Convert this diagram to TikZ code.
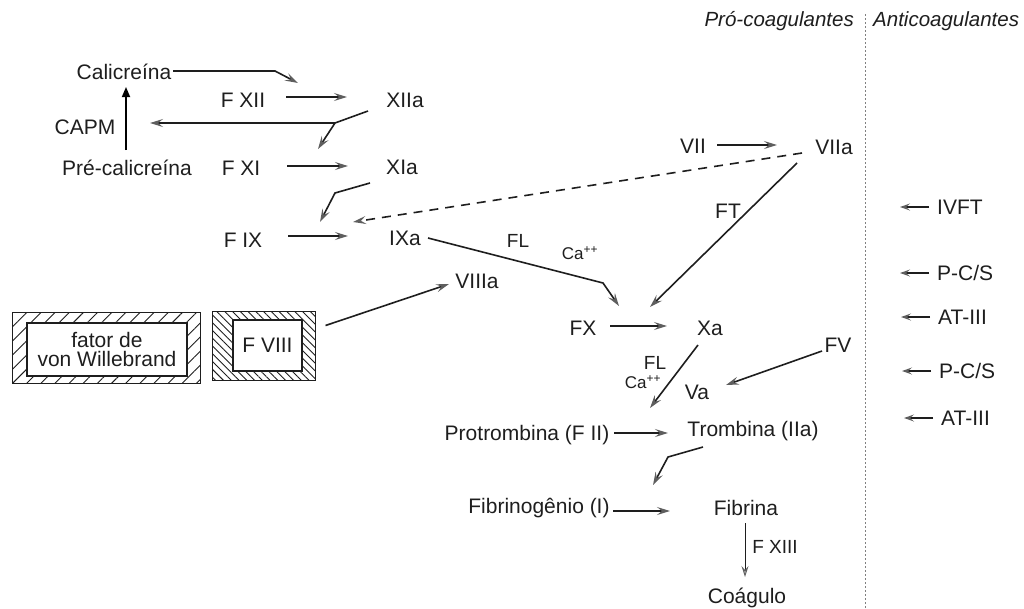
\documentclass[tikz,border=0pt]{standalone}
\usepackage{fontspec}
\setmainfont{Liberation Sans}
\usetikzlibrary{arrows.meta,patterns.meta,calc}
\definecolor{ink}{HTML}{1E1E1E}
\definecolor{tipgray}{HTML}{5E5E5E}
\begin{document}
\begin{tikzpicture}[x=1pt,y=-1pt,
  txt/.style={inner sep=0pt, text=ink, font=\fontsize{21}{23}\selectfont},
  lbl/.style={inner sep=0pt, text=ink, font=\fontsize{19}{21}\selectfont},
  small/.style={inner sep=0pt, text=ink, font=\fontsize{17}{19}\selectfont},
  hdr/.style={inner sep=0pt, text=ink, font=\fontsize{20.5}{22}\selectfont\itshape},
  line/.style={draw=ink, line width=1.6pt},
  arr/.style={line, -{Stealth[length=13pt,width=8pt,inset=5pt,color=tipgray,fill=tipgray!55]}},
  thinarr/.style={draw=ink, line width=0.9pt, -{Stealth[length=11pt,width=7pt,inset=4pt,color=tipgray,fill=tipgray!45]}},
  inh/.style={draw=ink, line width=1.3pt, -{Stealth[length=10pt,width=7pt,inset=4pt,color=tipgray,fill=tipgray!40]}},
  solidarr/.style={draw=black, line width=1.7pt, -{Triangle[length=10pt,width=8pt]}},
  dashedarr/.style={arr, dash pattern=on 9pt off 7pt},
  sep/.style={draw=gray, line width=0.8pt, dash pattern=on 2pt off 2pt},
  inner/.style={draw=ink, line width=1.3pt, inner sep=0pt, text=ink, align=center},
  band/.style={line width=1.3pt, draw=ink, even odd rule}
]
\useasboundingbox (0,0) rectangle (1024,608);

% column headers and divider
\node[hdr, anchor=east] (pro) at (854,21) {Pró-coagulantes};
\node[hdr, anchor=west] (anti) at (873,21) {Anticoagulantes};
\coordinate (septop) at (865,14);
\coordinate (sepbot) at (865,608);
\draw[sep] (septop) -- (sepbot);

% contact pathway
\node[txt] (cal) at (124,72) {Calicreína};
\node[txt] (capm) at (85,127) {CAPM};
\node[txt] (precal) at (127,168) {Pré-calicreína};
\node[txt] (fxii) at (243,100) {F XII};
\node[txt] (xiia) at (405,100) {XIIa};
\node[txt] (fxi) at (241,168) {F XI};
\node[txt] (xia) at (402,167) {XIa};
\node[txt] (fix) at (243,240) {F IX};
\node[txt] (ixa) at (405,238) {IXa};

% extrinsic pathway
\node[txt] (vii) at (693,146) {VII};
\node[txt] (viia) at (834,147) {VIIa};
\node[txt] (ft) at (728,211) {FT};

% cofactors
\node[txt] (viiia) at (477,281) {VIIIa};
\node[lbl] (fl1) at (518,241) {FL};
\node[small] (ca1) at (580,253) {Ca\textsuperscript{++}};

% common pathway
\node[txt] (fx) at (583,328) {FX};
\node[txt] (xa) at (710,328) {Xa};
\node[txt] (fv) at (838,345) {FV};
\node[txt] (va) at (697,392) {Va};
\node[lbl] (fl2) at (655,363) {FL};
\node[small] (ca2) at (643,382) {Ca\textsuperscript{++}};
\node[txt] (protr) at (527,435) {Protrombina (F II)};
\node[txt] (tromb) at (753,431) {Trombina (IIa)};
\node[txt] (fibg) at (539,508) {Fibrinogênio (I)};
\node[txt] (fibr) at (746,508) {Fibrina};
\node[lbl] (fxiii) at (775,547) {F XIII};
\node[txt] (coag) at (747,598) {Coágulo};

% hatched boxes
\node[inner, minimum width=160pt, minimum height=53pt, font=\fontsize{21}{19}\selectfont] (vwf) at (107,349.5) {fator de\\von Willebrand};
\fill[band, pattern={Lines[angle=45,distance=10pt,line width=0.9pt]}, pattern color=ink]
  ($(vwf.north west)+(-14,-10)$) rectangle ($(vwf.south east)+(13,7)$)
  (vwf.north west) rectangle (vwf.south east);
\node[inner, minimum width=69pt, minimum height=51pt, font=\fontsize{21}{23}\selectfont] (fviii) at (267.5,345.5) {F VIII};
\fill[band, pattern={Lines[angle=-45,distance=5.5pt,line width=0.9pt]}, pattern color=ink]
  ($(fviii.north west)+(-20,-8)$) rectangle ($(fviii.south east)+(13,9)$)
  (fviii.north west) rectangle (fviii.south east);

% inhibitors
\node[txt, anchor=west] (ivft) at (937,207) {IVFT};
\node[txt, anchor=west] (pcs1) at (937,273) {P-C/S};
\node[txt, anchor=west] (at1) at (938,317) {AT-III};
\node[txt, anchor=west] (pcs2) at (939,371) {P-C/S};
\node[txt, anchor=west] (at2) at (941,418) {AT-III};
\foreach \n in {ivft,pcs1,at1,pcs2,at2}
  \draw[inh] ($(\n.west)+(-8,0)$) -- ($(\n.west)+(-37,0)$);

% bend points
\coordinate (calbend) at ($(fxii)+(32,-29)$);
\coordinate (xiiaj) at ($(xiia)+(-70,23)$);
\coordinate (xiabend) at ($(xia)+(-67,26)$);
\coordinate (ixabend) at ($(fx)+(20,-45)$);
\coordinate (trombbend) at ($(tromb)+(-85,26)$);

% connectors
\draw[arr] ($(cal)+(49,-1)$) -- (calbend) -- ($(fxii)+(55,-17)$);
\draw[arr] ($(fxii)+(43,-3)$) -- ($(xiia)+(-58,-3)$);
\draw[solidarr] ($(precal)+(-1,-18)$) -- ($(cal)+(2,15)$);
\draw[line] ($(xiia)+(-37,11)$) -- (xiiaj);
\draw[arr] (xiiaj) -- ($(capm)+(65,-4)$);
\draw[arr] (xiiaj) -- ($(fxi)+(77,-19)$);
\draw[arr] ($(fxi)+(46,-2)$) -- ($(xia)+(-54,-1)$);
\draw[arr] ($(xia)+(-32,16)$) -- (xiabend) -- ($(fix)+(77,-18)$);
\draw[arr] ($(fix)+(45,-4)$) -- ($(ixa)+(-57,-2)$);
\draw[dashedarr] ($(viia)+(-32,6)$) -- ($(ixa)+(-52,-16)$);
\draw[arr] ($(vii)+(24,-1)$) -- ($(viia)+(-57,-2)$);
\draw[arr] ($(ixa)+(23,0)$) -- (ixabend) -- ($(fx)+(36,-22)$);
\draw[arr] ($(viia)+(-37,16)$) -- ($(xa)+(-60,-21)$);
\draw[arr] ($(fviii)+(58,-20)$) -- ($(viiia)+(-28,3)$);
\draw[arr] ($(fx)+(27,-2)$) -- ($(xa)+(-43,-2)$);
\draw[arr] ($(xa)+(-12,17)$) -- ($(tromb)+(-103,-23)$);
\draw[arr] ($(fv)+(-16,6)$) -- ($(va)+(29,-7)$);
\draw[arr] ($(protr)+(87,-2)$) -- ($(tromb)+(-85,2)$);
\draw[arr] ($(tromb)+(-50,16)$) -- (trombbend) -- ($(fibr)+(-93,-23)$);
\draw[arr] ($(fibg)+(74,3)$) -- ($(fibr)+(-76,3)$);
\draw[thinarr] ($(fibr)+(-1,15)$) -- ($(coag)+(-2,-21)$);
\end{tikzpicture}
\end{document}
